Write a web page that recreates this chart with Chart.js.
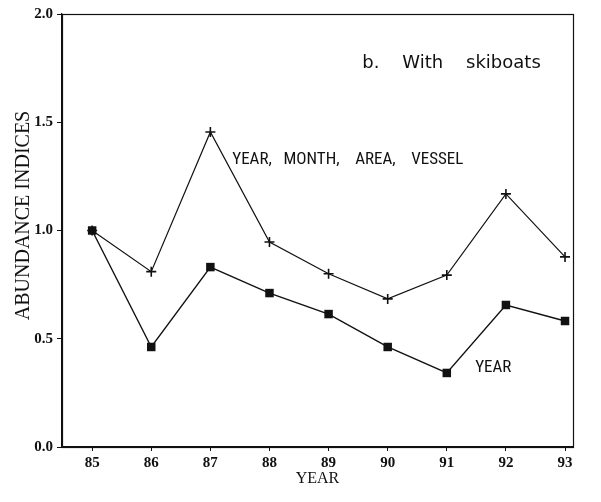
<!DOCTYPE html>
<html>
<head>
<meta charset="utf-8">
<script src="https://cdn.jsdelivr.net/npm/chart.js@4/dist/chart.umd.min.js"></script>
<style>
  html, body { margin: 0; padding: 0; background: #fff; }
  #wrap { width: 601px; height: 502px; position: relative; }
</style>
</head>
<body>
<div id="wrap"><canvas id="c" width="601" height="502"></canvas></div>
<script>
// ---- data ----
const years = [85, 86, 87, 88, 89, 90, 91, 92, 93];
const fullModel = [1.00, 0.81, 1.455, 0.947, 0.80, 0.684, 0.794, 1.169, 0.878]; // YEAR, MONTH, AREA, VESSEL
const yearModel = [1.00, 0.462, 0.831, 0.711, 0.614, 0.462, 0.342, 0.656, 0.582]; // YEAR
const yTicks = [0.0, 0.5, 1.0, 1.5, 2.0];
const seriesNames = ['YEAR,   MONTH,    AREA,    VESSEL', 'YEAR'];
const panelTitle = 'b.    With    skiboats';
const xTitle = 'YEAR';
const yTitle = '      ABUNDANCE INDICES';

const toXY = (arr) => years.map((x, i) => ({ x: x, y: arr[i] }));

const frame = {
  id: 'frame',
  afterDatasetsDraw(chart) {
    const { ctx, chartArea: a } = chart;
    ctx.save();
    ctx.strokeStyle = '#111';
    ctx.lineWidth = 1.2;
    ctx.strokeRect(a.left + 0.5, a.top + 0.5, a.right - a.left, a.bottom - a.top);
    ctx.restore();
  }
};

const notes = {
  id: 'notes',
  afterDatasetsDraw(chart, args, opts) {
    const { ctx, scales: { x, y } } = chart;
    ctx.save();
    ctx.fillStyle = '#111';
    ctx.textBaseline = 'middle';
    ctx.textAlign = 'left';
    (opts.items || []).forEach(it => {
      ctx.font = it.font;
      ctx.fillText(it.text, x.getPixelForValue(it.x), y.getPixelForValue(it.y));
    });
    ctx.restore();
  }
};

const tickFont = { family: "'Liberation Serif', serif", size: 15, weight: 'bold' };
const narrow = "17px 'Liberation Sans Narrow', 'Roboto Condensed', 'DejaVu Sans Condensed', Roboto, sans-serif";

new Chart(document.getElementById('c'), {
  type: 'line',
  data: {
    datasets: [
      {
        label: seriesNames[0],
        data: toXY(fullModel),
        borderColor: '#111',
        borderWidth: 1.2,
        pointStyle: 'cross',
        pointRadius: 5,
        pointBorderWidth: 1.6,
        pointBorderColor: '#111',
        tension: 0
      },
      {
        label: seriesNames[1],
        data: toXY(yearModel),
        borderColor: '#111',
        borderWidth: 1.4,
        pointStyle: 'rect',
        pointRadius: 6,
        pointBackgroundColor: '#111',
        pointBorderColor: '#111',
        pointBorderWidth: 0,
        tension: 0
      }
    ]
  },
  options: {
    responsive: false,
    animation: false,
    events: [],
    layout: { padding: { top: 14, right: 28, left: 0, bottom: 0 } },
    plugins: {
      legend: { display: false },
      tooltip: { enabled: false },
      notes: {
        items: [
          { text: panelTitle, x: 89.57, y: 1.77, font: "18px 'DejaVu Sans', sans-serif" },
          { text: seriesNames[0], x: 87.37, y: 1.326, font: narrow },
          { text: seriesNames[1], x: 91.48, y: 0.365, font: narrow }
        ]
      }
    },
    scales: {
      x: {
        type: 'linear',
        min: 84.49,
        max: 93.135,
        afterBuildTicks: (s) => { s.ticks = years.map(v => ({ value: v })); },
        afterFit: (s) => { s.height = 55; },
        grid: { drawOnChartArea: false, drawTicks: true, tickLength: 4, color: '#111' },
        border: { display: true, color: '#111', width: 1.2 },
        ticks: { color: '#111', font: tickFont, padding: 3, maxRotation: 0, autoSkip: false, callback: (v) => String(v) },
        title: { display: true, text: xTitle, color: '#111', font: { family: "'Liberation Serif', serif", size: 16 }, padding: { top: 0, bottom: 14 } }
      },
      y: {
        type: 'linear',
        min: 0,
        max: 2,
        afterBuildTicks: (s) => { s.ticks = yTicks.map(v => ({ value: v })); },
        afterFit: (s) => { s.width = 62; },
        grid: { drawOnChartArea: false, drawTicks: true, tickLength: 5, color: '#111' },
        border: { display: true, color: '#111', width: 1.2 },
        ticks: { color: '#111', font: tickFont, padding: 4, callback: (v) => Number(v).toFixed(1) },
        title: { display: true, text: yTitle, color: '#111', font: { family: "'Liberation Serif', serif", size: 20 }, padding: { top: 12, bottom: 0 } }
      }
    }
  },
  plugins: [frame, notes]
});
</script>
</body>
</html>
